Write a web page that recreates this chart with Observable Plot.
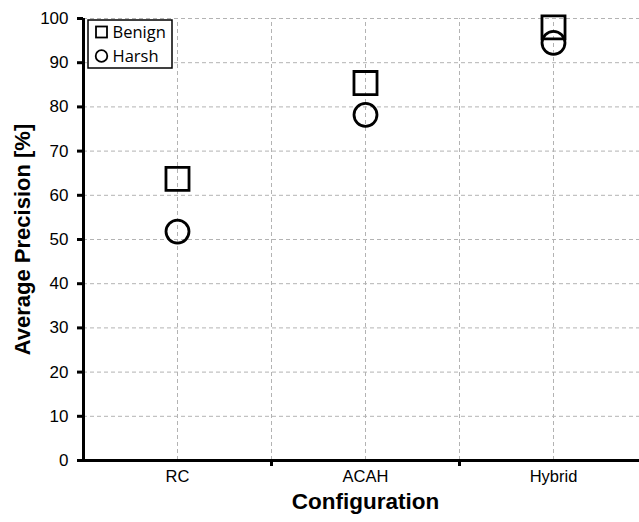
<!DOCTYPE html>
<html><head><meta charset="utf-8">
<script src="https://cdn.jsdelivr.net/npm/d3@7"></script>
<script src="https://cdn.jsdelivr.net/npm/@observablehq/plot@0.6"></script>
<style>body{margin:0;background:#fff} #chart{width:639px;height:522px}</style>
</head><body><div id="chart"></div>
<script>
const categories = ["RC", "ACAH", "Hybrid"];
const benign = [63.7, 85.4, 98.0];
const harsh = [51.8, 78.2, 94.5];
const yTicks = [0, 10, 20, 30, 40, 50, 60, 70, 80, 90, 100];
const seriesNames = ["Benign", "Harsh"];
const xTitle = "Configuration";
const yTitle = "Average Precision [%]";

const data = categories.flatMap((c, i) => [
  {pos: i + 0.5, cat: c, series: seriesNames[0], value: benign[i]},
  {pos: i + 0.5, cat: c, series: seriesNames[1], value: harsh[i]}
]);
const vGrid = categories.flatMap((c, i) => [i + 0.5, i + 1]);
const catPos = categories.map((c, i) => ({cat: c, pos: i + 0.5}));
const boundaries = categories.map((c, i) => i + 1);

const gridStyle = {stroke: "#b3b3b3", strokeWidth: 1, strokeDasharray: "4,3"};

const plot = Plot.plot({
  width: 639, height: 522,
  marginLeft: 83, marginRight: 0, marginTop: 18, marginBottom: 62,
  x: {type: "linear", domain: [0, categories.length], range: [83, 647]},
  y: {domain: [0, 100], range: [460, 18]},
  style: {fontFamily: "'Liberation Sans', Arial, sans-serif", background: "white", color: "black", overflow: "visible"},
  marks: [
    Plot.ruleY(yTicks.filter(d => d > 0), gridStyle),
    Plot.ruleX(vGrid, {...gridStyle, y1: 0, y2: 100}),
    Plot.axisY({ticks: yTicks, tickSize: 6, strokeWidth: 3, tickFormat: () => "", label: null}),
    Plot.text(yTicks, {x: () => 0, y: d => d, text: d => String(d), textAnchor: "end", dx: -15, fontSize: 17}),
    Plot.axisX({ticks: boundaries, tickSize: 6, strokeWidth: 3, tickFormat: () => "", label: null}),
    Plot.text(catPos, {x: "pos", text: "cat", frameAnchor: "bottom", dy: 21, fontSize: 16.5}),
    Plot.text([xTitle], {frameAnchor: "bottom", x: () => categories.length / 2, dy: 48, fontSize: 22.5, fontWeight: "bold"}),
    Plot.text([yTitle], {frameAnchor: "left", textAnchor: "middle", dx: -61, rotate: -90, fontSize: 22, fontWeight: "bold"}),
    Plot.ruleY([0], {stroke: "black", strokeWidth: 3}),
    Plot.ruleX([0], {stroke: "black", strokeWidth: 3}),
    Plot.dot(data.filter(d => d.series === seriesNames[0]), {x: "pos", y: "value", symbol: "square", r: 13, stroke: "black", strokeWidth: 2.8, fill: "none"}),
    Plot.dot(data.filter(d => d.series === seriesNames[1]), {x: "pos", y: "value", symbol: "circle", r: 11.5, stroke: "black", strokeWidth: 2.8, fill: "none"})
  ]
});
document.getElementById("chart").appendChild(plot);

// Legend box inside the plot (top-left)
const svg = d3.select(plot);
const lg = svg.append("g").attr("transform", "translate(88,20)").attr("text-anchor", "start");
lg.append("rect").attr("width", 84).attr("height", 48).attr("fill", "white").attr("stroke", "black").attr("stroke-width", 1.5);
seriesNames.forEach((name, k) => {
  const cy = 12 + k * 24;
  if (k === 0) {
    lg.append("rect").attr("x", 8).attr("y", cy - 5.5).attr("width", 11).attr("height", 11)
      .attr("fill", "none").attr("stroke", "black").attr("stroke-width", 1.8);
  } else {
    lg.append("circle").attr("cx", 13.5).attr("cy", cy).attr("r", 5.8)
      .attr("fill", "none").attr("stroke", "black").attr("stroke-width", 1.8);
  }
  lg.append("text").attr("x", 24.5).attr("y", cy).attr("dy", "0.36em").attr("text-anchor", "start")
    .attr("font-family", "'Open Sans', 'Noto Sans', sans-serif").attr("font-size", 16.5)
    .attr("fill", "black").text(name);
});
</script></body></html>
